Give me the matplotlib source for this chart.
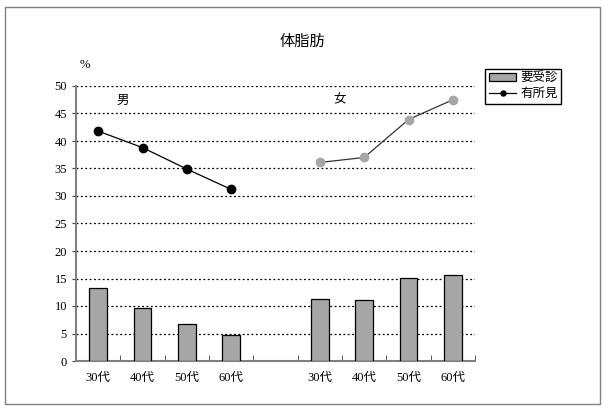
import matplotlib.pyplot as plt
import matplotlib.patches as patches
import numpy as np

plt.rcParams['font.family'] = ['Liberation Serif', 'Noto Sans CJK JP']

ages = ["30代", "40代", "50代", "60代"]
male_bar = [13.3, 9.6, 6.7, 4.7]
female_bar = [11.3, 11.1, 15.1, 15.6]
male_line = [41.8, 38.8, 34.9, 31.2]
female_line = [36.1, 37.0, 43.9, 47.5]

fig = plt.figure(figsize=(6.03, 4.08), dpi=100)
ax = fig.add_axes([76 / 603, 47 / 408, 399 / 603, 275 / 408])

# outer frame
fig.patches.append(patches.Rectangle((5 / 603, 4 / 408), 595 / 603, 397 / 408,
                                     transform=fig.transFigure, fill=False,
                                     edgecolor='#808080', linewidth=1))

xm = np.arange(4)
xf = np.arange(5, 9)
bar_kw = dict(width=0.4, color='#a6a6a6', edgecolor='black', linewidth=0.9, zorder=3)
hb = ax.bar(xm, male_bar, **bar_kw)
ax.bar(xf, female_bar, **bar_kw)

hl, = ax.plot(xm, male_line, color='black', linewidth=0.9, marker='o', markersize=6,
              zorder=4)
ax.plot(xf, female_line, color='#333333', linewidth=0.9, marker='o', markersize=6,
        markerfacecolor='#a6a6a6', markeredgecolor='#a6a6a6', zorder=4)

ax.set_xlim(-0.5, 8.5)
ax.set_ylim(0, 50)
ax.set_yticks(range(0, 51, 5))
ax.yaxis.grid(True, linestyle=(0, (1.5, 2)), color='black', linewidth=0.9)
ax.set_axisbelow(True)

ax.set_xticks(list(xm) + list(xf))
ax.set_xticklabels(ages + ages, fontsize=9)
ax.set_xticks(np.arange(-0.5, 9, 1), minor=True)
ax.tick_params(axis='x', which='major', length=0, pad=8)
ax.tick_params(axis='x', which='minor', direction='in', length=4, color='#404040')
ax.tick_params(axis='y', labelsize=9, length=3, color='#404040')

for s in ['top', 'right']:
    ax.spines[s].set_visible(False)
for s in ['left', 'bottom']:
    ax.spines[s].set_color('#808080')
    ax.spines[s].set_linewidth(1.5)

ax.text(0.55, 47.3, '男', fontsize=9, ha='center', va='center')
ax.text(5.45, 47.3, '女', fontsize=9, ha='center', va='center')

fig.text(302 / 603, 1 - 42 / 408, '体脂肪', fontsize=11, ha='center', va='center')
fig.text(85 / 603, 1 - 65 / 408, '%', fontsize=9, ha='center', va='center')

ax.legend([hb, hl], ['要受診', '有所見'], loc='upper left',
          bbox_to_anchor=(1.01, 1.085), fontsize=9, markerscale=0.6,
          frameon=True, fancybox=False, edgecolor='black', framealpha=1,
          handlelength=2.2, handleheight=0.6, handletextpad=0.3,
          borderpad=0.3, labelspacing=0.25)

fig.savefig('out.png', dpi=100)
